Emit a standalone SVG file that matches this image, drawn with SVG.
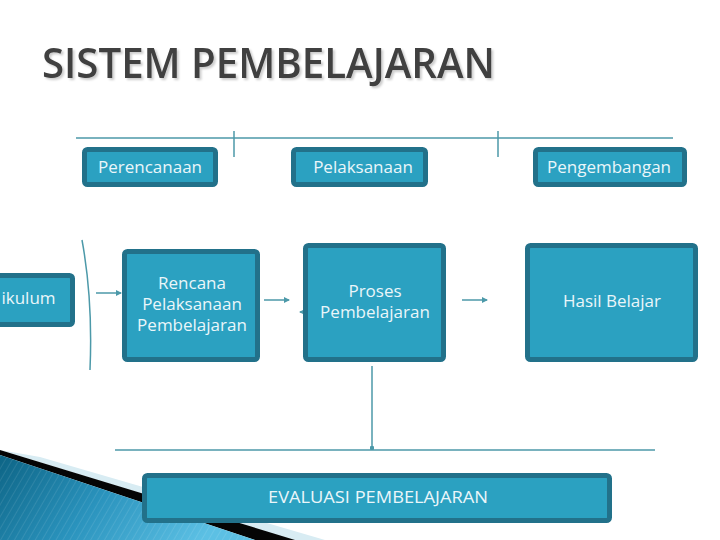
<svg xmlns="http://www.w3.org/2000/svg" width="720" height="540" viewBox="0 0 720 540">
<defs>
<style>
.box{fill:#2ba1c1;stroke:#22718a;stroke-width:5;}
.lbl{font-family:"Open Sans","DejaVu Sans",sans-serif;font-size:17px;fill:#eaf6fa;text-anchor:middle;}
.ln{stroke:#4c99a9;stroke-width:1.5;fill:none;}
</style>
<filter id="sh" x="-5%" y="-20%" width="110%" height="150%">
<feDropShadow dx="2" dy="2" stdDeviation="0.8" flood-color="#000000" flood-opacity="0.2"/>
</filter>
<marker id="ah" viewBox="0 0 6 6" refX="5" refY="3" markerWidth="4" markerHeight="4" orient="auto">
<path d="M0,0 L6,3 L0,6 z" fill="#4c99a9"/>
</marker>
<marker id="dot" viewBox="0 0 6 6" refX="3" refY="3" markerWidth="3" markerHeight="3">
<circle cx="3" cy="3" r="3" fill="#4c99a9"/>
</marker>
<linearGradient id="bg" x1="0" y1="0" x2="1" y2="0.3">
<stop offset="0" stop-color="#0d6485"/>
<stop offset="0.5" stop-color="#2a93bd"/>
<stop offset="1" stop-color="#5cc0e4"/>
</linearGradient>
<pattern id="stripes" width="6" height="6" patternUnits="userSpaceOnUse" patternTransform="rotate(30)">
<line x1="0" y1="0" x2="0" y2="6" stroke="#ffffff" stroke-opacity="0.12" stroke-width="1.5"/>
</pattern>
</defs>
<rect width="720" height="540" fill="#ffffff"/>
<!-- decoration -->
<polygon points="40,457 325,540 292,540 0,450" fill="#d8ecf3"/>
<polygon points="0,450 295,540 255,540 0,455" fill="#050505"/>
<polygon points="0,455 255,540 0,540" fill="url(#bg)"/>
<polygon points="0,455 255,540 0,540" fill="url(#stripes)"/>
<!-- title -->
<text x="42" y="78" font-family="Open Sans, DejaVu Sans, sans-serif" font-size="42" font-weight="600" fill="#404040" textLength="453" lengthAdjust="spacingAndGlyphs" filter="url(#sh)">SISTEM PEMBELAJARAN</text>
<g id="connectors">
<line class="ln" x1="76" y1="138" x2="673" y2="138"/>
<line class="ln" x1="234" y1="131" x2="234" y2="157"/>
<line class="ln" x1="498" y1="131" x2="498" y2="157"/>
<path class="ln" d="M82,240 Q93,300 90,370"/>
<line class="ln" x1="96" y1="293" x2="121" y2="293" marker-end="url(#ah)"/>
<line class="ln" x1="264" y1="300" x2="289" y2="300" marker-end="url(#ah)"/>
<line class="ln" x1="316" y1="312" x2="300" y2="312" marker-end="url(#ah)"/>
<line class="ln" x1="462" y1="300" x2="487" y2="300" marker-end="url(#ah)"/>
<line class="ln" x1="372" y1="366" x2="372" y2="448" marker-end="url(#dot)"/>
<line class="ln" x1="115" y1="450" x2="655" y2="450"/>
</g>
<g id="kurikulum">
<rect class="box" x="-10" y="275.5" width="82.5" height="49" rx="3"/>
<text class="lbl" x="28.5" y="304">ikulum</text>
</g>
<g id="perencanaan">
<rect class="box" x="84.5" y="149.5" width="131" height="35" rx="3"/>
<text class="lbl" x="150" y="173">Perencanaan</text>
</g>
<g id="pelaksanaan">
<rect class="box" x="293.5" y="149.5" width="132" height="35" rx="3"/>
<text class="lbl" x="363" y="173">Pelaksanaan</text>
</g>
<g id="pengembangan">
<rect class="box" x="535.5" y="149.5" width="149" height="35" rx="3"/>
<text class="lbl" x="609" y="173">Pengembangan</text>
</g>
<g id="rencana">
<rect class="box" x="124.5" y="251.5" width="133" height="108" rx="3"/>
<text class="lbl" x="192" y="289">Rencana</text>
<text class="lbl" x="192" y="310">Pelaksanaan</text>
<text class="lbl" x="192" y="331">Pembelajaran</text>
</g>
<g id="proses">
<rect class="box" x="305.5" y="245.5" width="138" height="114" rx="3"/>
<text class="lbl" x="375" y="297">Proses</text>
<text class="lbl" x="375" y="318">Pembelajaran</text>
</g>
<g id="hasil">
<rect class="box" x="527.5" y="245.5" width="168" height="114" rx="3"/>
<text class="lbl" x="612" y="307">Hasil Belajar</text>
</g>
<g id="evaluasi">
<rect class="box" x="144.5" y="475.5" width="465" height="45" rx="3"/>
<text class="lbl" x="378" y="503" textLength="220" lengthAdjust="spacingAndGlyphs">EVALUASI PEMBELAJARAN</text>
</g>
</svg>
